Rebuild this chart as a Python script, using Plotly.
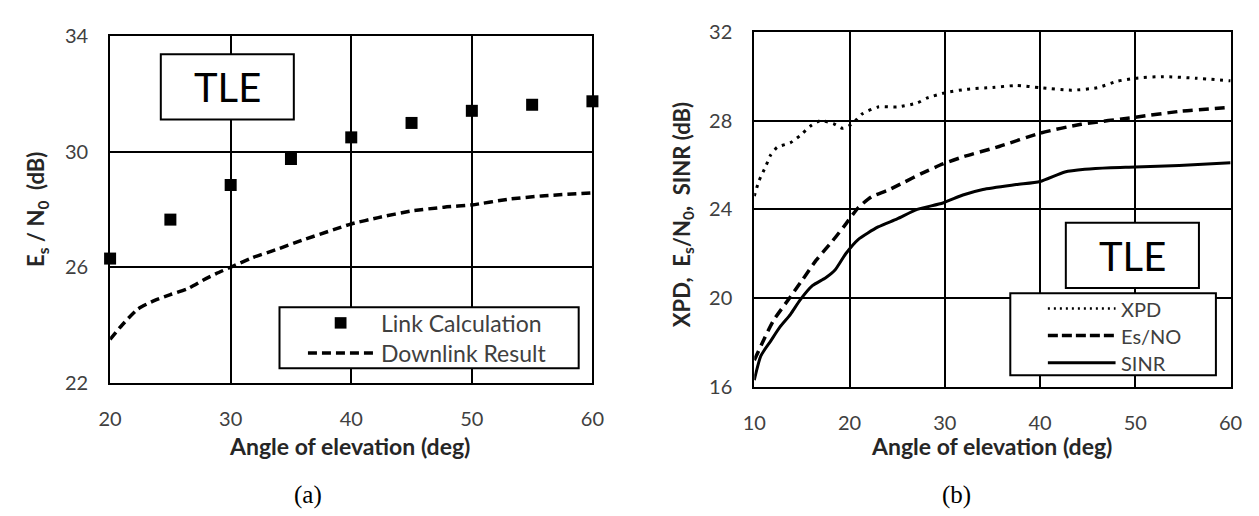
import plotly.graph_objects as go

# ---- panel (a): Es/N0 vs elevation ----
elev_a = [20, 25, 30, 35, 40, 45, 50, 55, 60]
link_calc = [26.3, 27.65, 28.85, 29.75, 30.5, 31.0, 31.42, 31.63, 31.75]

downlink_elev = [20, 21, 22.3, 23.7, 25, 26.4, 27.7, 28.8, 30, 31.8, 33.7, 35.9,
                 38.6, 40, 42.25, 45, 47.7, 50, 53.1, 55.8, 60]
downlink_esn0 = [23.5, 24.0, 24.55, 24.85, 25.05, 25.25, 25.55, 25.78, 26.0, 26.33,
                 26.6, 26.93, 27.31, 27.5, 27.72, 27.95, 28.08, 28.16, 28.36, 28.47, 28.58]

# ---- panel (b): XPD, Es/N0, SINR vs elevation ----
xpd_elev = [10, 10.5, 11.2, 11.7, 12.4, 13.8, 14.8, 15.9, 16.9, 18.3, 19.3, 20.3,
            21.3, 23.0, 25.0, 27.1, 28.1, 30.2, 32.3, 35.0, 37.5, 40, 43.3, 46,
            48.1, 50, 52.9, 56.3, 60]
xpd = [24.6, 25.29, 25.94, 26.44, 26.8, 27.01, 27.33, 27.76, 28.0, 27.87, 27.66,
       27.87, 28.3, 28.62, 28.62, 28.8, 29.02, 29.28, 29.42, 29.5, 29.59, 29.49,
       29.38, 29.49, 29.78, 29.92, 29.99, 29.92, 29.8]

esn0_elev = [10, 11.0, 12.0, 13.8, 15.1, 16.5, 18.2, 19.5, 20.9, 22.3, 24.0, 25.7,
             27.7, 29.8, 31.9, 35.7, 40, 44.3, 50, 54.6, 60]
esn0 = [17.2, 18.12, 18.98, 20.06, 20.85, 21.71, 22.57, 23.28, 24.07, 24.57, 24.86,
        25.22, 25.65, 26.05, 26.37, 26.84, 27.44, 27.84, 28.16, 28.42, 28.6]

sinr_elev = [10, 10.7, 11.7, 12.7, 13.8, 14.8, 16.1, 17.5, 18.5, 19.6, 20.9, 23.0,
             25.0, 27.1, 29.8, 31.9, 34.0, 37.5, 40, 42.6, 44.7, 47.4, 50, 54.6, 60]
sinr = [16.3, 17.4, 18.05, 18.7, 19.27, 19.91, 20.56, 20.92, 21.28, 22.0, 22.64,
        23.21, 23.57, 24.0, 24.29, 24.65, 24.9, 25.12, 25.26, 25.69, 25.81, 25.88,
        25.91, 25.98, 26.1]

x_ticks_a = [20, 30, 40, 50, 60]
y_ticks_a = [22, 26, 30, 34]
x_ticks_b = [10, 20, 30, 40, 50, 60]
y_ticks_b = [16, 20, 24, 28, 32]

W, H = 1259, 516


def px(x):
    return x / W


def py(y):
    return 1 - y / H


FONT = "Lato"
TICK_COLOR = "#404040"
TITLE_COLOR = "#262626"

fig = go.Figure()

fig.add_trace(go.Scatter(
    x=downlink_elev, y=downlink_esn0, name="Downlink Result", mode="lines",
    line=dict(color="black", width=3.5, dash="9px,5px", shape="spline", smoothing=0.6),
    xaxis="x", yaxis="y", showlegend=False, cliponaxis=False))
fig.add_trace(go.Scatter(
    x=elev_a, y=link_calc, name="Link Calculation", mode="markers",
    marker=dict(symbol="square", size=12, color="black"),
    xaxis="x", yaxis="y", showlegend=False, cliponaxis=False))

fig.add_trace(go.Scatter(
    x=xpd_elev, y=xpd, name="XPD", mode="lines",
    line=dict(color="black", width=3, dash="3px,5.5px", shape="spline", smoothing=0.6),
    xaxis="x2", yaxis="y2", showlegend=False, cliponaxis=False))
fig.add_trace(go.Scatter(
    x=esn0_elev, y=esn0, name="Es/NO", mode="lines",
    line=dict(color="black", width=3.5, dash="10px,6px", shape="spline", smoothing=0.6),
    xaxis="x2", yaxis="y2", showlegend=False, cliponaxis=False))
fig.add_trace(go.Scatter(
    x=sinr_elev, y=sinr, name="SINR", mode="lines",
    line=dict(color="black", width=3, shape="spline", smoothing=0.6),
    xaxis="x2", yaxis="y2", showlegend=False, cliponaxis=False))

axis_common = dict(
    showline=True, linecolor="black", linewidth=2, mirror=True,
    showgrid=True, gridcolor="black", gridwidth=2, zeroline=False,
    ticks="", tickfont=dict(family=FONT, size=20, color=TICK_COLOR),
)

fig.update_layout(
    width=W, height=H,
    margin=dict(l=0, r=0, t=0, b=0),
    paper_bgcolor="white", plot_bgcolor="white",
    showlegend=False,
    xaxis=dict(domain=[px(100), px(591.7)], anchor="y", range=[20, 60],
               tickvals=x_ticks_a, ticklabelstandoff=17, **axis_common),
    yaxis=dict(domain=[py(387.7), py(24.5)], anchor="x", range=[22, 34],
               tickvals=y_ticks_a, ticklabelstandoff=16, **axis_common),
    xaxis2=dict(domain=[px(756.7), px(1242.3)], anchor="y2", range=[10, 60],
                tickvals=x_ticks_b, ticklabelstandoff=17, **axis_common),
    yaxis2=dict(domain=[py(392), py(20)], anchor="x2", range=[16, 32],
                tickvals=y_ticks_b, ticklabelstandoff=16, **axis_common),
)

shapes = []
annotations = []


def box(x0, y0, x1, y1):
    shapes.append(dict(type="rect", xref="paper", yref="paper",
                       x0=px(x0), x1=px(x1), y0=py(y1), y1=py(y0),
                       line=dict(color="black", width=2), fillcolor="white",
                       layer="above"))


def seg(x0, x1, y, dash, width):
    shapes.append(dict(type="line", xref="paper", yref="paper",
                       x0=px(x0), x1=px(x1), y0=py(y), y1=py(y),
                       line=dict(color="black", width=width, dash=dash),
                       layer="above"))


def text(x, y, s, size, color, xanchor="center", bold=False, angle=0, family=FONT):
    annotations.append(dict(
        xref="paper", yref="paper", x=px(x), y=py(y), text=s, showarrow=False,
        xanchor=xanchor, yanchor="middle", textangle=angle,
        font=dict(family=family, size=size, color=color,
                  weight="bold" if bold else "normal")))


# "TLE" labels
box(151.7, 43.3, 287.3, 111.7)
text(219.5, 78, "TLE", 40, "black")
box(1074.3, 220, 1210, 288.3)
text(1142, 255, "TLE", 40, "black")

# legend, panel (a)
box(272.7, 308.7, 577.7, 372.5)
shapes.append(dict(type="rect", xref="paper", yref="paper",
                   x0=px(329), x1=px(341), y0=py(331), y1=py(319),
                   line=dict(color="black", width=0), fillcolor="black", layer="above"))
seg(301.7, 371.7, 356.7, "9px,5px", 3.5)
text(374, 325, "Link Calculation", 23, TICK_COLOR, xanchor="left")
text(374, 357, "Downlink Result", 23, TICK_COLOR, xanchor="left")

# legend, panel (b)
box(1017.7, 294, 1227.3, 380)
seg(1056, 1125, 310, "2px,4px", 2.5)
seg(1056, 1125, 338.3, "10px,4px", 3.5)
seg(1056, 1125, 366.7, "solid", 3)
text(1129, 310, "XPD", 20, TICK_COLOR, xanchor="left")
text(1129, 338.3, "Es/NO", 20, TICK_COLOR, xanchor="left")
text(1129, 366.7, "SINR", 20, TICK_COLOR, xanchor="left")

# axis titles
text(344, 454, "Angle of elevation (deg)", 23, TITLE_COLOR, bold=True)
text(999, 454, "Angle of elevation (deg)", 23, TITLE_COLOR, bold=True)
text(26, 206, "E<sub>s</sub> / N<sub>0</sub>  (dB)", 22, TITLE_COLOR, bold=True, angle=-90)
text(684, 211, "XPD,  E<sub>s</sub>/N<sub>0</sub>,  SINR (dB)", 22, TITLE_COLOR,
     bold=True, angle=-90)

# panel captions
text(302, 505, "(a)", 25, "black", family="Liberation Serif")
text(963, 505, "(b)", 25, "black", family="Liberation Serif")

fig.update_layout(shapes=shapes, annotations=annotations)

fig.write_html("out.html")
